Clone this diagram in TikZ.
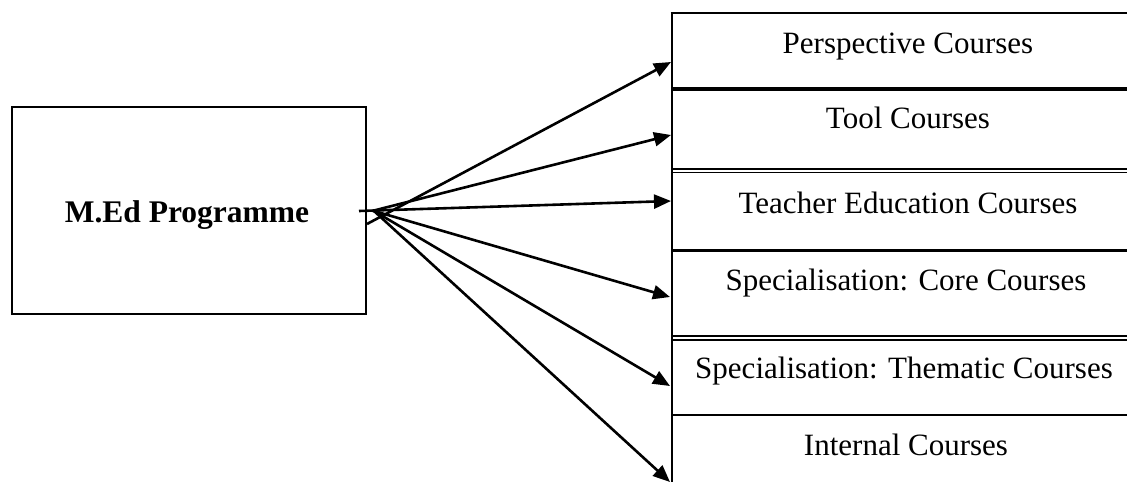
\documentclass[tikz,border=0pt]{standalone}
\usepackage{fontspec}
\setmainfont{Liberation Serif}
\usetikzlibrary{arrows.meta}
\begin{document}
\begin{tikzpicture}[x=1pt,y=-1pt,
  lbl/.style={anchor=base,inner sep=0pt,font=\fontsize{31}{37}\selectfont},
  mainlbl/.style={anchor=base,inner sep=0pt,font=\fontsize{31.5}{37}\selectfont\bfseries},
  conn/.style={line width=2.6pt,-{Triangle[length=17pt,width=14pt]}},
  rule/.style={line width=2.6pt},
  thickrule/.style={line width=3.6pt},
  thinrule/.style={line width=1.8pt}]
\useasboundingbox (0,0) rectangle (1127,482);
% left box
\draw[line width=2pt] (12,107) rectangle (366,314);
\node[mainlbl] (med) at (187,222) {M.Ed Programme};
% right stack
\draw[rule] (672,13) -- (672,482);
\draw[rule] (670.7,13) -- (1127,13);
\draw[thickrule] (672,89) -- (1127,89);
\draw[thinrule] (672,168.6) -- (1127,168.6);
\draw[thinrule] (672,172.4) -- (1127,172.4);
\draw[rule] (672,250.5) -- (1127,250.5);
\draw[thinrule] (672,335.8) -- (1127,335.8);
\draw[thinrule] (672,339.6) -- (1127,339.6);
\draw[rule] (672,415) -- (1127,415);
% labels
\node[lbl] (p) at (908,53) {Perspective Courses};
\node[lbl] (t) at (908,128) {Tool Courses};
\node[lbl] (te) at (908,213) {Teacher Education Courses};
\node[lbl] (sc) at (906,290) {Specialisation: Core Courses};
\node[lbl] (st) at (904,378) {Specialisation: Thematic Courses};
\node[lbl] (ic) at (906,455) {Internal Courses};
% connector ends
\coordinate (s1) at (367,224);
\coordinate (s2) at (372,211);
\coordinate (s3) at (359,211);
\coordinate (hub) at (374,211);
\coordinate (e1) at (671,62);
\coordinate (e2) at (671,135);
\coordinate (e3) at (671,201);
\coordinate (e4) at (670,297);
\coordinate (e5) at (670,386);
\coordinate (e6) at (670,482);
\draw[conn] (s1) -- (e1);
\draw[conn] (s2) -- (e2);
\draw[conn] (s3) -- (e3);
\draw[conn] (hub) -- (e4);
\draw[conn] (hub) -- (e5);
\draw[conn] (hub) -- (e6);
\end{tikzpicture}
\end{document}
